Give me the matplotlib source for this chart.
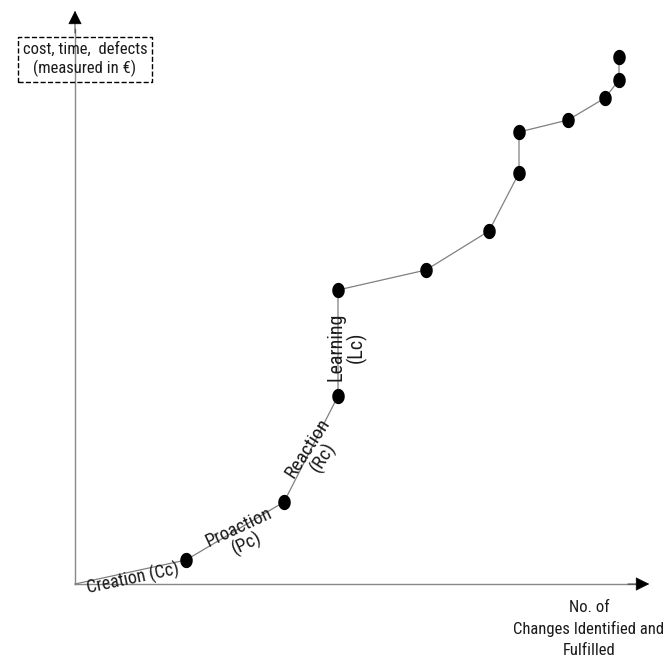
import numpy as np
import matplotlib.pyplot as plt

plt.rcParams['font.family'] = ['Roboto Condensed', 'Liberation Sans', 'DejaVu Sans']

# 曲线上的点（原点为坐标轴交点）
x_pts = [0, 111, 209, 263, 263, 351, 414, 444, 444, 493, 530, 544, 544]
y_pts = [0, 24, 82, 188, 294, 314, 353, 411, 452, 464, 486, 504, 527]

phase_labels = ['Creation (Cc)', 'Proaction\n(Pc)', 'Reaction\n(Rc)', 'Learning\n(Lc)']
y_label = 'cost, time,  defects\n(measured in €)'
x_label = 'No. of\nChanges Identified and\nFulfilled'

fig = plt.figure(figsize=(6.67, 6.61), dpi=100)
ax = fig.add_axes([0, 0, 1, 1])
ax.set_xlim(-75, 592)
ax.set_ylim(-77, 584)
ax.axis('off')

# 坐标轴
ax.plot([0, 560], [0, 0], color='#888888', lw=1)
ax.plot([0, 0], [0, 555], color='#888888', lw=1)
ax.annotate('', xy=(577, 0), xytext=(550, 0),
            arrowprops=dict(arrowstyle='-|>', color='black', mutation_scale=22, lw=0.5))
ax.annotate('', xy=(0, 576), xytext=(0, 548),
            arrowprops=dict(arrowstyle='-|>', color='black', mutation_scale=22, lw=0.5))

# 椭圆形标记
t = np.linspace(0, 2 * np.pi, 40)
ellipse = np.column_stack([0.8 * np.cos(t), np.sin(t)])
ax.plot(x_pts, y_pts, color='#808080', lw=0.9)
ax.plot(x_pts[1:], y_pts[1:], ls='none', marker=ellipse, markersize=10,
        color='black')

fs = 12
txt_color = '#1a1a1a'
# 阶段标签
ax.text(58, 5, phase_labels[0], rotation=12, ha='center', va='center', fontsize=13,
        color=txt_color)
ax.text(168, 48, phase_labels[1], rotation=25, ha='center', va='center', fontsize=13.5,
        linespacing=1.0, color=txt_color)
ax.text(241, 131, phase_labels[2], rotation=57, ha='center', va='center', fontsize=14,
        linespacing=1.0, color=txt_color)
ax.text(272, 237, phase_labels[3], rotation=90, ha='center', va='center', fontsize=14.5,
        linespacing=1.0, color=txt_color)

# 纵轴标签（虚线框）
ax.text(10, 525, y_label, ha='center', va='center', fontsize=fs, linespacing=1.2,
        color=txt_color,
        bbox=dict(boxstyle='square,pad=0.3', fc='none', ec='black', ls='--', lw=1))

# 横轴标签
ax.text(514, -45, x_label, ha='center', va='center', fontsize=fs, linespacing=1.45,
        color=txt_color)

fig.savefig('out.png', dpi=100)
